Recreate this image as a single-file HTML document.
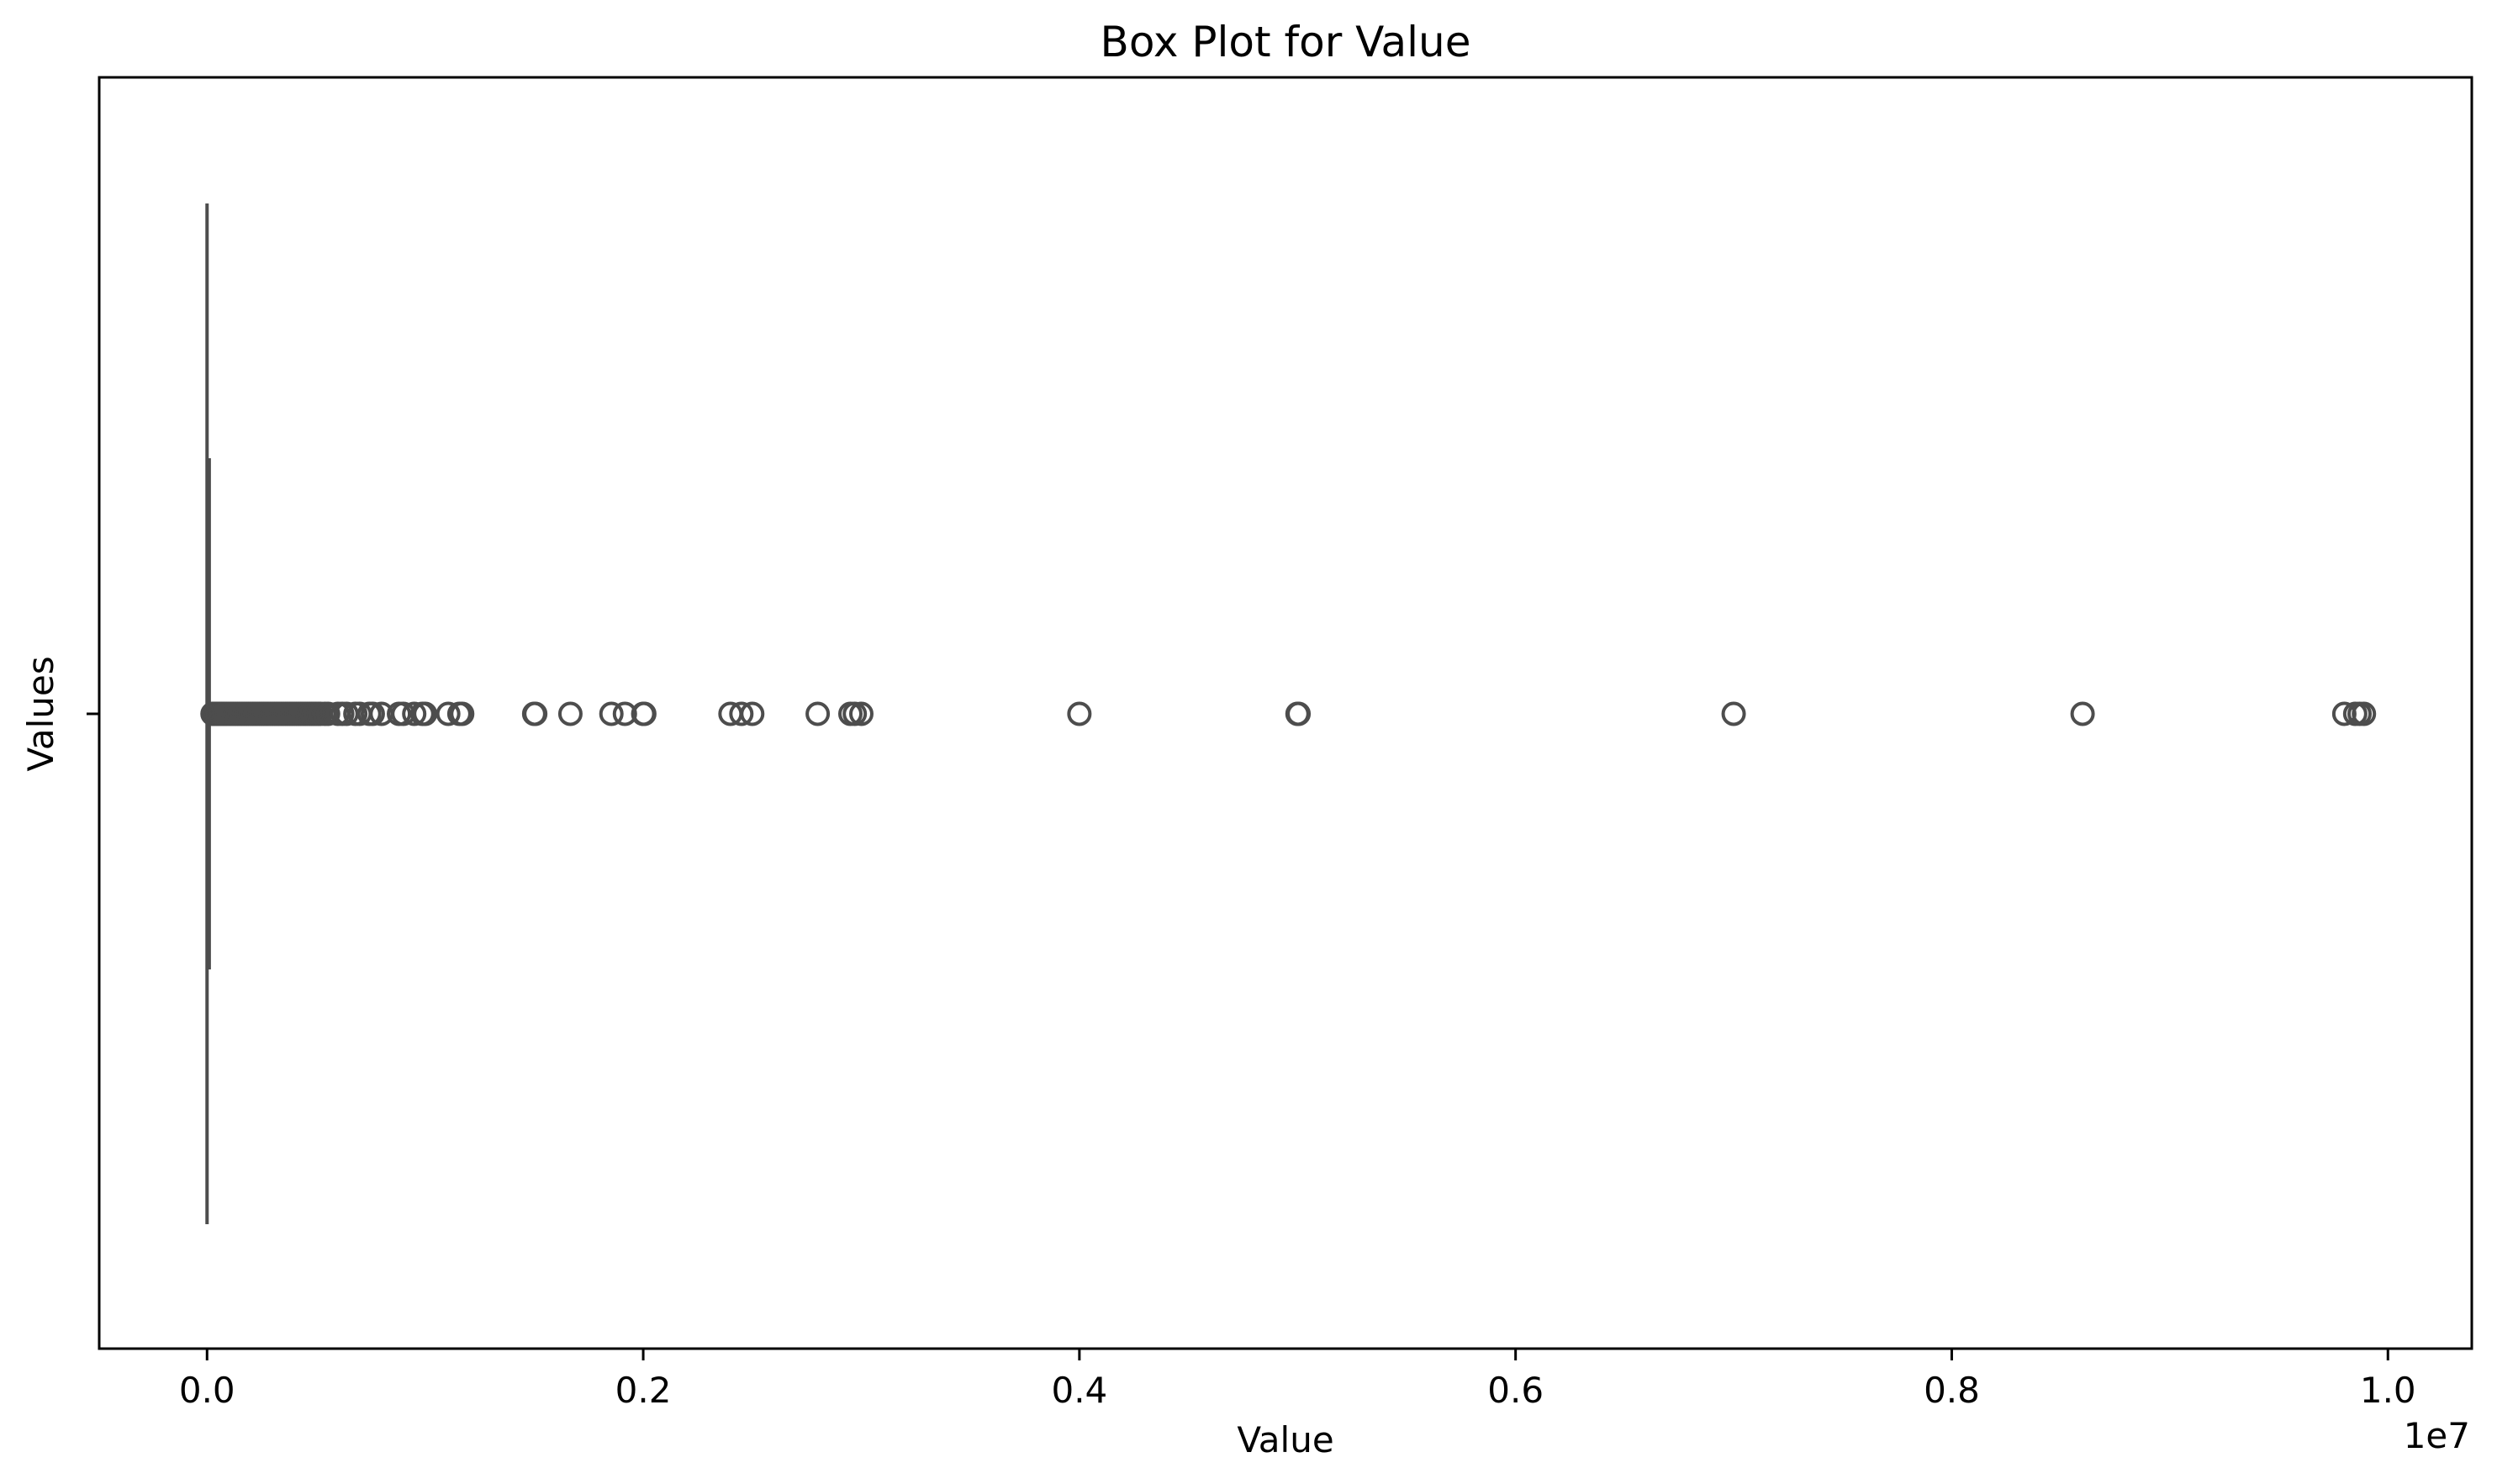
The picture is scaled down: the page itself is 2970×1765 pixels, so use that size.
<!DOCTYPE html>
<html><head><meta charset="utf-8"><style>
html,body{margin:0;padding:0;background:#fff;}
svg{display:block;font-family:"DejaVu Sans","Liberation Sans",sans-serif;}
</style></head><body>
<svg id="chart" width="2970" height="1765" viewBox="0 0 2970 1765">
<rect x="0" y="0" width="2970" height="1765" fill="#fff"/>
<text x="1529" y="67" font-size="50" text-anchor="middle">Box Plot for Value</text>
<g id="plot"></g>
<g id="xticks"></g>
<rect x="118" y="92" width="2822" height="1512" fill="none" stroke="#000" stroke-width="3"/>
<line x1="103" y1="849" x2="118" y2="849" stroke="#000" stroke-width="3"/>
<text x="1529" y="1727" font-size="42" text-anchor="middle">Value</text>
<text x="2938" y="1722" font-size="42" text-anchor="end">1e7</text>
<text transform="translate(63,849) rotate(-90)" font-size="42" text-anchor="middle">Values</text>
</svg>
<script>
const tickValues = [0, 2000000, 4000000, 6000000, 8000000, 10000000];
const tickLabels = ["0.0", "0.2", "0.4", "0.6", "0.8", "1.0"];
const boxStats = [0, 0, 4000, 12000, 25000]; // whiskerLow, q1, median, q3, whiskerHigh
const outliers = [25000, 30000, 35000, 40000, 45000, 50000, 55000, 60000, 65000, 70000, 75000, 80000, 90000, 100000, 110000, 120000, 130000, 140000, 150000, 160000, 170000, 180000, 190000, 200000, 210000, 220000, 230000, 240000, 250000, 260000, 270000, 280000, 290000, 300000, 310000, 320000, 330000, 340000, 350000, 360000, 370000, 380000, 390000, 400000, 410000, 420000, 430000, 440000, 450000, 460000, 470000, 480000, 490000, 500000, 510000, 520000, 540000, 555000, 600000, 620000, 640000, 680000, 700000, 744000, 760000, 800000, 880000, 900000, 950000, 987000, 1000000, 1106000, 1157000, 1170000, 1500000, 1505000, 1666000, 1854000, 1916000, 2000000, 2005000, 2400000, 2450000, 2500000, 2800000, 2950000, 2970000, 3000000, 4000000, 5000000, 5005000, 7000000, 8600000, 9800000, 9850000, 9870000, 9890000];
const xDomain = [-494500, 10384500];

const NS = "http://www.w3.org/2000/svg";
const L = 118, R = 2940, T = 92, B = 1604;
function xs(v){ return L + (v - xDomain[0]) / (xDomain[1] - xDomain[0]) * (R - L); }
const yc = 849, boxHalf = 304, capHalf = 607;
function mk(tag, attrs, parent){ const e = document.createElementNS(NS, tag); for (const k in attrs) e.setAttribute(k, attrs[k]); parent.appendChild(e); return e; }
const plot = document.getElementById('plot');
const xt = document.getElementById('xticks');

tickValues.forEach((v, i) => {
  const t = mk('line', {x1: xs(v), x2: xs(v), y1: B, y2: B + 14, stroke: '#000', 'stroke-width': 3}, xt);
  
  
  const lb = mk('text', {x: xs(v), y: 1668, 'font-size': 42, 'text-anchor': 'middle'}, xt);
  lb.textContent = tickLabels[i];
  
  
});

const col = '#4d4d4d';
const wl = mk('line', {x1: xs(boxStats[0]), x2: xs(boxStats[4]), y1: yc, y2: yc, stroke: col, 'stroke-width': 4}, plot);


const cap = mk('line', {x1: xs(boxStats[0]), x2: xs(boxStats[0]), y1: yc - capHalf, y2: yc + capHalf, stroke: col, 'stroke-width': 4}, plot);


const bx = mk('rect', {x: xs(boxStats[1]) - 1.5, y: yc - boxHalf, width: Math.max(xs(boxStats[3]) - xs(boxStats[1]), 1) + 3, height: boxHalf * 2, fill: col}, plot);


const md = mk('line', {x1: xs(boxStats[2]), x2: xs(boxStats[2]), y1: yc - boxHalf, y2: yc + boxHalf, stroke: col, 'stroke-width': 2}, plot);



outliers.forEach(v => {
  const c = mk('circle', {cx: xs(v), cy: yc, r: 12.5, fill: 'none', stroke: col, 'stroke-width': 4}, plot);
  
  
});
</script>
</body></html>
